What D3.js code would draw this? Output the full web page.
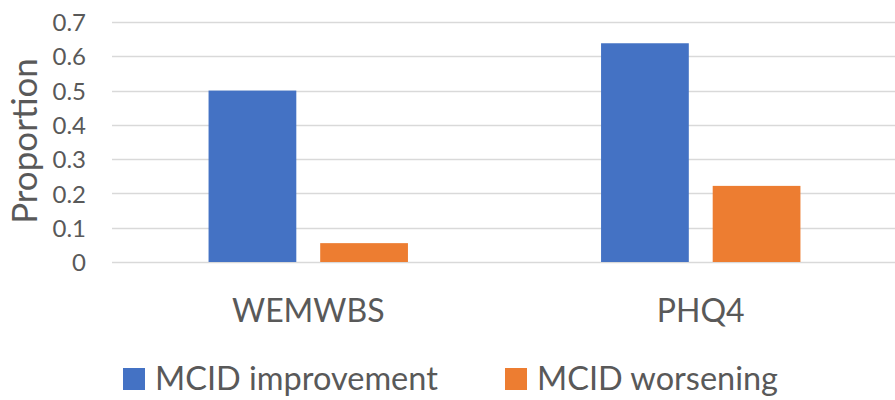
<!DOCTYPE html>
<html>
<head>
<meta charset="utf-8">
<script src="https://cdn.jsdelivr.net/npm/d3@7"></script>
<style>
  html, body { margin: 0; padding: 0; background: #fff; }
  svg { display: block; }
  text { font-family: Lato, "Open Sans", sans-serif; fill: #595959; }
</style>
</head>
<body>
<svg id="chart" width="895" height="400"></svg>
<script>
// Share of respondents reaching the MCID, by scale
const categories = ["WEMWBS", "PHQ4"];
const seriesNames = ["MCID improvement", "MCID worsening"];
const improvement = [0.5, 0.638];
const worsening = [0.055, 0.222];
const yTicks = [0, 0.1, 0.2, 0.3, 0.4, 0.5, 0.6, 0.7];
const colors = ["#4472C4", "#ED7D31"];

const svg = d3.select("#chart");
const plot = { left: 112, right: 897, top: 22, bottom: 262 };

const x = d3.scaleBand().domain(categories).range([plot.left, plot.right]).paddingInner(0).paddingOuter(0);
const y = d3.scaleLinear().domain([0, 0.7]).range([plot.bottom, plot.top]);

// inner band for the two series inside each category
const clusterFrac = 0.508;
const x1 = d3.scaleBand().domain(seriesNames)
  .range([0, x.bandwidth() * clusterFrac]).paddingInner(0.214);

// gridlines
svg.append("g")
  .selectAll("line")
  .data(yTicks)
  .join("line")
  .attr("x1", plot.left).attr("x2", plot.right)
  .attr("y1", d => Math.round(y(d)) + 0.5).attr("y2", d => Math.round(y(d)) + 0.5)
  .attr("stroke", "#d9d9d9").attr("stroke-width", 1.4);

// y axis labels
const yAxis = d3.axisLeft(y).tickValues(yTicks).tickSize(0).tickPadding(0)
  .tickFormat(d => d === 0 ? "0" : d3.format(".1f")(d));
const gy = svg.append("g").attr("transform", `translate(86,0)`).call(yAxis);
gy.select(".domain").remove();
gy.selectAll("text").attr("font-size", 24).attr("font-family", null).attr("fill", null)
  .attr("dy", "0.36em");

// bars
const rows = categories.map((c, i) => ({ cat: c, values: [improvement[i], worsening[i]] }));
const clusterOffset = x.bandwidth() * (1 - clusterFrac) / 2;
svg.append("g")
  .selectAll("g")
  .data(rows)
  .join("g")
  .attr("transform", d => `translate(${x(d.cat) + clusterOffset},0)`)
  .selectAll("rect")
  .data(d => d.values.map((v, j) => ({ v, s: seriesNames[j], j })))
  .join("rect")
  .attr("x", d => x1(d.s))
  .attr("width", x1.bandwidth())
  .attr("y", d => y(d.v))
  .attr("height", d => y(0) - y(d.v))
  .attr("fill", d => colors[d.j]);

// category labels
const xAxis = d3.axisBottom(x).tickSize(0).tickPadding(0);
const gx = svg.append("g").attr("transform", `translate(0,${plot.bottom})`).call(xAxis);
gx.select(".domain").remove();
gx.selectAll("text").attr("font-size", 32).attr("font-family", null).attr("fill", null)
  .attr("dy", null).attr("y", 60);

// axis title
svg.append("text")
  .attr("transform", `translate(37,141) rotate(-90)`)
  .attr("text-anchor", "middle")
  .attr("font-size", 35)
  .text("Proportion");

// legend
const legendX = [123, 505];
const lg = svg.append("g").selectAll("g").data(seriesNames).join("g")
  .attr("transform", (d, i) => `translate(${legendX[i]},368)`);
lg.append("rect").attr("width", 22).attr("height", 22).attr("fill", (d, i) => colors[i]);
lg.append("text").attr("x", 32).attr("y", 22).attr("font-size", 32.5).text(d => d);
</script>
</body>
</html>
